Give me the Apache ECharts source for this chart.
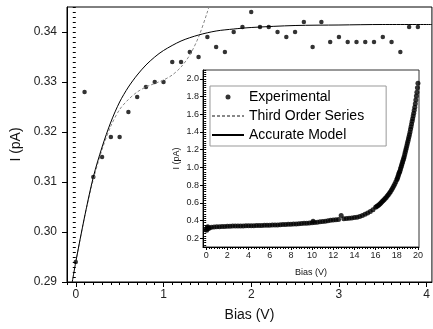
<!DOCTYPE html>
<html>
<head>
<meta charset="utf-8" />
<title>bias current</title>
<script src="https://cdn.jsdelivr.net/npm/echarts@6/dist/echarts.min.js"></script>
</head>
<body style="margin:0;">
<div id="chart" style="width:433px;height:329px;"></div>
<script>
// main plot, experimental points
var biasMain = [0, 0.1, 0.2, 0.3, 0.4, 0.5, 0.6, 0.7, 0.8, 0.9, 1.0, 1.1, 1.2, 1.3, 1.4, 1.5, 1.6, 1.7, 1.8, 1.9,
  2.0, 2.1, 2.2, 2.3, 2.4, 2.5, 2.6, 2.7, 2.8, 2.9, 3.0, 3.1, 3.2, 3.3, 3.4, 3.5, 3.6, 3.7, 3.8, 3.9];
var currentMain = [0.294, 0.328, 0.311, 0.315, 0.319, 0.319, 0.324, 0.327, 0.329, 0.330, 0.330, 0.334, 0.334, 0.336, 0.335, 0.339, 0.337, 0.336, 0.340, 0.341,
  0.344, 0.341, 0.341, 0.340, 0.339, 0.340, 0.342, 0.337, 0.342, 0.338, 0.339, 0.338, 0.338, 0.338, 0.338, 0.339, 0.338, 0.336, 0.341, 0.341];

// third order series (dashed)
var seriesBias = [0, 0.1, 0.2, 0.3, 0.4, 0.5, 0.6, 0.7, 0.8, 0.9, 1.0, 1.1, 1.2, 1.3, 1.4, 1.5, 1.55];
var seriesCurrent = [0.2940, 0.3030, 0.3105, 0.3165, 0.3212, 0.3245, 0.3265, 0.3280, 0.3290, 0.3297, 0.3304, 0.3314, 0.3330, 0.3354, 0.3390, 0.3440, 0.3470];

// accurate model (solid)
var modelBias = [-0.04, 0, 0.1, 0.2, 0.3, 0.4, 0.5, 0.6, 0.7, 0.8, 0.9, 1.0, 1.2, 1.4, 1.6, 1.8, 2.0, 2.5, 3.0, 3.5, 4.06];
var modelCurrent = [0.2900, 0.2940, 0.3030, 0.3110, 0.3170, 0.3220, 0.3260, 0.3290, 0.3314, 0.3334, 0.3350, 0.3363, 0.3382, 0.3394, 0.3402, 0.3406, 0.3409, 0.3413, 0.3414, 0.3415, 0.3415];

// inset, full sweep to 20 V
var insetBias = [0, 0.05, 0.1, 0.15, 0.2, 0.3, 0.5, 0.75, 1.0, 1.25, 1.5, 1.75, 2.0, 2.25, 2.5, 2.75, 3.0, 3.25, 3.5, 3.75, 4.0, 4.25, 4.5, 4.75,
  5.0, 5.25, 5.5, 5.75, 6.0, 6.25, 6.5, 6.75, 7.0, 7.25, 7.5, 7.75, 8.0, 8.25, 8.5, 8.75, 9.0, 9.25, 9.5, 9.75,
  10.0, 10.1, 10.25, 10.5, 10.75, 11.0, 11.25, 11.5, 11.75, 12.0, 12.25, 12.5, 12.75, 13.0, 13.25, 13.5, 13.75,
  14.0, 14.25, 14.5, 14.75, 15.0, 15.25, 15.5, 15.75,
  16.0, 16.1, 16.2, 16.3, 16.4, 16.5, 16.6, 16.7, 16.8, 16.9, 17.0, 17.1, 17.2, 17.3, 17.4, 17.5, 17.6, 17.7, 17.8, 17.9,
  18.0, 18.05, 18.1, 18.15, 18.2, 18.25, 18.3, 18.35, 18.4, 18.45, 18.5, 18.55, 18.6, 18.65, 18.7, 18.75, 18.8, 18.85, 18.9, 18.95,
  19.0, 19.05, 19.1, 19.15, 19.2, 19.25, 19.3, 19.35, 19.4, 19.45, 19.5, 19.55, 19.6, 19.65, 19.7, 19.75, 19.8, 19.85, 19.9, 19.95, 20.0];
var insetCurrent = [0.30, 0.29, 0.32, 0.33, 0.31, 0.315, 0.322, 0.326, 0.328, 0.330, 0.332, 0.333, 0.334, 0.335, 0.336, 0.336, 0.337, 0.337, 0.338, 0.339, 0.339, 0.340, 0.341, 0.342,
  0.343, 0.344, 0.345, 0.346, 0.347, 0.348, 0.349, 0.350, 0.352, 0.353, 0.354, 0.356, 0.357, 0.359, 0.361, 0.363, 0.365, 0.367, 0.369, 0.371,
  0.373, 0.390, 0.376, 0.380, 0.384, 0.388, 0.392, 0.397, 0.402, 0.405, 0.409, 0.412, 0.455, 0.418, 0.421, 0.425, 0.428,
  0.432, 0.437, 0.445, 0.455, 0.470, 0.485, 0.500, 0.520,
  0.550, 0.557, 0.565, 0.575, 0.585, 0.597, 0.610, 0.622, 0.635, 0.647, 0.660, 0.675, 0.690, 0.707, 0.725, 0.745, 0.765, 0.787, 0.810, 0.835,
  0.860, 0.875, 0.890, 0.910, 0.930, 0.945, 0.960, 0.980, 1.000, 1.020, 1.040, 1.060, 1.080, 1.100, 1.120, 1.145, 1.170, 1.195, 1.220, 1.245,
  1.270, 1.295, 1.320, 1.345, 1.370, 1.400, 1.430, 1.460, 1.490, 1.520, 1.550, 1.580, 1.610, 1.645, 1.680, 1.720, 1.760, 1.805, 1.850, 1.900, 1.950];

var mainXTicks = [0, 1, 2, 3, 4];
var mainYTicks = [0.29, 0.30, 0.31, 0.32, 0.33, 0.34];
var insetXTicks = [0, 2, 4, 6, 8, 10, 12, 14, 16, 18, 20];
var insetYTicks = [0.2, 0.4, 0.6, 0.8, 1.0, 1.2, 1.4, 1.6, 1.8, 2.0];

function zip(xs, ys) {
  var out = [];
  for (var i = 0; i < xs.length; i++) out.push([xs[i], ys[i]]);
  return out;
}
function steps(from, to, step) {
  var out = [];
  var n = Math.round((to - from) / step);
  for (var i = 0; i <= n; i++) out.push(+(from + i * step).toFixed(4));
  return out;
}

var font = 'Liberation Sans, Arial, sans-serif';
var black = '#000';

function majorAxis(grid, min, max, ticks, digits, o) {
  var ax = {
    gridIndex: grid, type: 'value', min: min, max: max,
    axisLine: {show: true, onZero: false, lineStyle: {color: black, width: 1}},
    axisTick: {show: true, customValues: ticks, length: o.tickLen, lineStyle: {color: black}},
    axisLabel: {customValues: ticks, margin: o.margin, fontSize: o.fontSize, fontFamily: font, color: '#222',
      formatter: function (v) { return v.toFixed(digits); }},
    splitLine: {show: false},
    name: o.name, nameLocation: 'middle', nameGap: o.nameGap,
    nameTextStyle: {fontSize: o.nameSize, fontFamily: font, color: '#111'}
  };
  if (o.position) ax.position = o.position;
  return ax;
}
function minorAxis(grid, min, max, ticks, len, position) {
  return {
    gridIndex: grid, type: 'value', min: min, max: max, position: position,
    axisLine: {show: false},
    axisTick: {show: true, customValues: ticks, length: len, lineStyle: {color: black}},
    axisLabel: {show: false},
    splitLine: {show: false}
  };
}

var myChart = echarts.init(document.getElementById('chart'));
var option = {
  animation: false,
  backgroundColor: '#fff',
  grid: [
    {left: 67, top: 7, right: -1, bottom: 47, show: true, borderColor: black, borderWidth: 1},
    {left: 203, top: 70, right: 14, bottom: 82, show: true, borderColor: '#333', borderWidth: 1, backgroundColor: '#fff'}
  ],
  xAxis: [
    majorAxis(0, -0.1, 4.06, mainXTicks, 0, {position: 'bottom', tickLen: 5, margin: 7, fontSize: 12, name: 'Bias (V)', nameGap: 26, nameSize: 14}),
    minorAxis(0, -0.1, 4.06, steps(-0.1, 4.0, 0.1), 3, 'bottom'),
    majorAxis(1, -0.3, 20.1, insetXTicks, 0, {position: 'bottom', tickLen: 3, margin: 4, fontSize: 9, name: 'Bias (V)', nameGap: 21, nameSize: 9}),
    minorAxis(1, -0.3, 20.1, steps(0, 20, 0.25), 2, 'bottom')
  ],
  yAxis: [
    majorAxis(0, 0.29, 0.345, mainYTicks, 2, {position: 'left', tickLen: 5, margin: 10, fontSize: 12, name: 'I (pA)', nameGap: 42, nameSize: 14}),
    minorAxis(0, 0.29, 0.345, steps(0.29, 0.345, 0.001), 3, 'left'),
    majorAxis(1, 0.1, 2.1, insetYTicks, 1, {position: 'left', tickLen: 3, margin: 4, fontSize: 9, name: 'I (pA)', nameGap: 22, nameSize: 9}),
    minorAxis(1, 0.1, 2.1, steps(0.1, 2.1, 0.025), 2, 'left')
  ],
  legend: {
    left: 210, top: 86, orient: 'vertical',
    itemWidth: 32, itemHeight: 5, itemGap: 5,
    padding: [4, 22, 4, 1],
    borderColor: '#999', borderWidth: 1, backgroundColor: '#fff',
    selectedMode: false,
    textStyle: {fontFamily: font, fontSize: 14, lineHeight: 14, color: black},
    data: [
      {name: 'Experimental'},
      {name: 'Third Order Series', itemStyle: {opacity: 0}},
      {name: 'Accurate Model', itemStyle: {opacity: 0}}
    ]
  },
  series: [
    {
      name: 'Experimental', type: 'scatter', xAxisIndex: 0, yAxisIndex: 0,
      symbol: 'circle', symbolSize: 4.5, itemStyle: {color: black},
      data: zip(biasMain, currentMain)
    },
    {
      name: 'Third Order Series', type: 'line', xAxisIndex: 0, yAxisIndex: 0,
      smooth: 0.3, symbol: 'none', itemStyle: {color: '#888'},
      lineStyle: {color: '#888', width: 1, type: [3, 2]},
      data: zip(seriesBias, seriesCurrent)
    },
    {
      name: 'Accurate Model', type: 'line', xAxisIndex: 0, yAxisIndex: 0,
      smooth: 0.3, symbol: 'none', itemStyle: {color: black},
      lineStyle: {color: black, width: 1},
      data: zip(modelBias, modelCurrent)
    },
    {
      name: 'Experimental', type: 'scatter', xAxisIndex: 2, yAxisIndex: 2,
      symbol: 'circle', symbolSize: 5, itemStyle: {color: black},
      data: zip(insetBias, insetCurrent)
    }
  ]
};
myChart.setOption(option);
</script>
</body>
</html>
